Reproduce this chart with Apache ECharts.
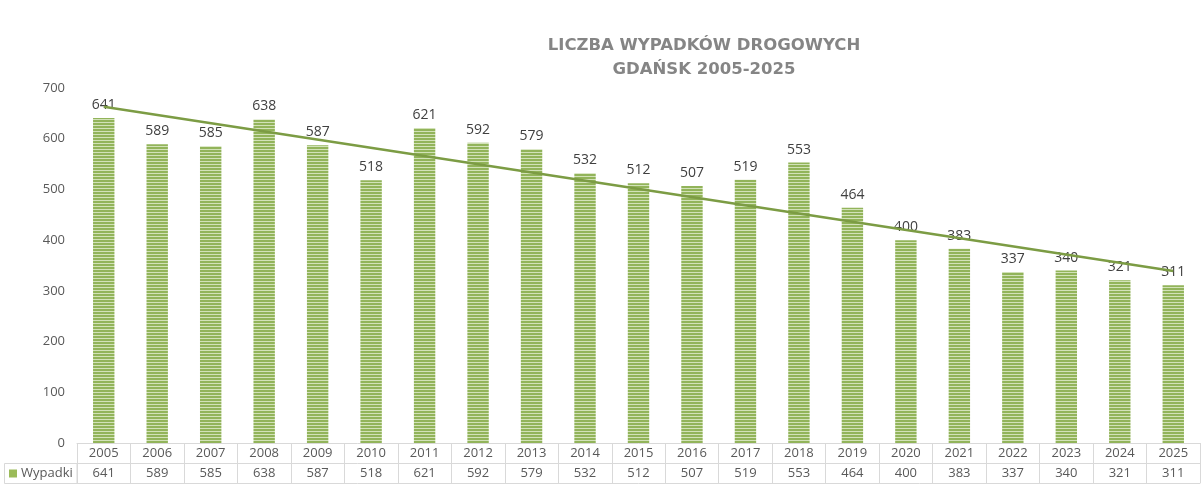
<!DOCTYPE html>
<html>
<head>
<meta charset="utf-8">
<script src="https://cdn.jsdelivr.net/npm/echarts@6/dist/echarts.min.js"></script>
<style>
  html, body { margin: 0; padding: 0; background: #fff; }
  #chart { width: 1204px; height: 493px; }
</style>
</head>
<body>
<div id="chart"></div>
<script>
const years = ['2005', '2006', '2007', '2008', '2009', '2010', '2011', '2012', '2013', '2014', '2015',
  '2016', '2017', '2018', '2019', '2020', '2021', '2022', '2023', '2024', '2025'];
const accidents = [641, 589, 585, 638, 587, 518, 621, 592, 579, 532, 512,
  507, 519, 553, 464, 400, 383, 337, 340, 321, 311];
// trend line ends (2005 and 2025)
const trendEnds = [663, 339];
const yTicks = { min: 0, max: 700, interval: 100 };

const chart = echarts.init(document.getElementById('chart'));

// striped fill for the bars
const stripe = document.createElement('canvas');
stripe.width = 4;
stripe.height = 3;
const ctx = stripe.getContext('2d');
ctx.fillStyle = '#92b45a';
ctx.fillRect(0, 0, 4, 2);
ctx.fillStyle = '#d2e2b8';
ctx.fillRect(0, 2, 4, 1);

const trendData = years.map(() => null);
trendData[0] = trendEnds[0];
trendData[years.length - 1] = trendEnds[1];

const gray = '#595959';
const border = '#d9d9d9';

const option = {
  animation: false,
  backgroundColor: '#fff',
  title: {
    text: 'LICZBA WYPADKÓW DROGOWYCH\nGDAŃSK 2005-2025',
    left: 699,
    textAlign: 'center',
    top: 29,
    textStyle: {
      fontFamily: 'DejaVu Sans',
      fontSize: 16.5,
      fontWeight: 'bold',
      color: '#858585',
      lineHeight: 24
    }
  },
  legend: {
    data: ['Wypadki'],
    left: 9,
    top: 467,
    padding: 0,
    itemWidth: 8,
    itemHeight: 8,
    itemGap: 4,
    icon: 'rect',
    itemStyle: { color: '#9bbb59' },
    textStyle: { fontFamily: 'Open Sans', fontSize: 13, color: gray, padding: [0, 0, 0, -1] }
  },
  grid: { left: 77, right: 4, top: 88, bottom: 50 },
  xAxis: [
    {
      type: 'category',
      data: years,
      position: 'bottom',
      axisLine: { lineStyle: { color: border } },
      axisTick: { show: true, length: 40, lineStyle: { color: border } },
      axisLabel: { margin: 4, fontFamily: 'Open Sans', fontSize: 13, color: gray, interval: 0 }
    },
    {
      type: 'category',
      data: accidents.map(String),
      position: 'bottom',
      offset: 20,
      axisLine: { lineStyle: { color: border } },
      axisTick: { show: false },
      axisLabel: { margin: 4, fontFamily: 'Open Sans', fontSize: 13, color: gray, interval: 0 }
    },
    {
      type: 'category',
      data: years,
      position: 'bottom',
      offset: 40,
      axisLine: { lineStyle: { color: border } },
      axisTick: { show: false },
      axisLabel: { show: false }
    }
  ],
  yAxis: {
    type: 'value',
    min: yTicks.min,
    max: yTicks.max,
    interval: yTicks.interval,
    axisLine: { show: false },
    axisTick: { show: false },
    splitLine: { show: false },
    axisLabel: { margin: 12, fontFamily: 'Open Sans', fontSize: 13, color: gray }
  },
  graphic: [
    {
      type: 'rect',
      shape: { x: 4.5, y: 463.5, width: 72.5, height: 20 },
      style: { fill: 'none', stroke: border, lineWidth: 1 }
    }
  ],
  series: [
    {
      name: 'Wypadki',
      type: 'bar',
      data: accidents,
      barWidth: '40%',
      itemStyle: { color: { image: stripe, repeat: 'repeat' } },
      label: {
        show: true,
        position: 'top',
        distance: 6,
        fontFamily: 'Open Sans',
        fontSize: 14,
        color: '#404040'
      }
    },
    {
      name: 'Trend',
      type: 'line',
      data: trendData,
      connectNulls: true,
      symbol: 'none',
      lineStyle: { color: '#7c9c44', width: 2.5 },
      z: 3
    }
  ]
};

chart.setOption(option);
</script>
</body>
</html>
